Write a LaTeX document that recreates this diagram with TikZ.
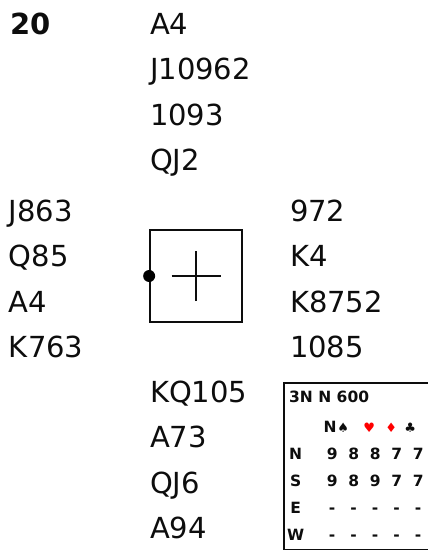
\documentclass[tikz,border=0pt]{standalone}
\usepackage{fontspec}
\setmainfont{DejaVu Sans}
\usepackage{tikz}
\usetikzlibrary{shapes, arrows, positioning}
\newcommand{\handfont}{\fontsize{29}{29}\selectfont}
\newcommand{\scorefont}{\bfseries\fontsize{15.5}{15.5}\selectfont}
\tikzstyle{hand} = [font=\handfont, text=black!95, inner sep=0pt, text width=120pt, align=left, text height=21pt, text depth=6pt]
\tikzstyle{score} = [font=\scorefont, text=black!95, inner sep=0pt, text height=11.3pt, text depth=0pt]
\tikzstyle{suit} = [score, font=\fontsize{13}{13}\selectfont]
\tikzstyle{redsuit} = [suit, text=red]
\tikzstyle{frame} = [line width=1.7pt, draw=black!95]

\begin{document}
\begin{tikzpicture}[x=1pt, y=-1pt, node distance=45.5pt]
\useasboundingbox (0,0) rectangle (428,552);

\node (board) [hand, font=\handfont\bfseries] at (70,26.5) {20};

\node (northS) [hand] at (210,26.5) {A4};
\node (northH) [hand, below of=northS] {J10962};
\node (northD) [hand, below of=northH] {1093};
\node (northC) [hand, below of=northD] {QJ2};

\node (westS) [hand] at (69,213.5) {J863};
\node (westH) [hand, below of=westS] {Q85};
\node (westD) [hand, below of=westH] {A4};
\node (westC) [hand, below of=westD] {K763};

\node (eastS) [hand] at (350,213.5) {972};
\node (eastH) [hand, below of=eastS] {K4};
\node (eastD) [hand, below of=eastH] {K8752};
\node (eastC) [hand, below of=eastD] {1085};

\node (southS) [hand] at (210,394.5) {KQ105};
\node (southH) [hand, below of=southS] {A73};
\node (southD) [hand, below of=southH] {QJ6};
\node (southC) [hand, below of=southD] {A94};

\node (deal) [frame, minimum size=92pt, inner sep=0pt] at (196,276) {};
\draw [line width=1.4pt, draw=black!95] ([xshift=-24.5pt]deal.center) -- ([xshift=24.5pt]deal.center);
\draw [line width=1.4pt, draw=black!95] ([yshift=-25pt]deal.center) -- ([yshift=25pt]deal.center);
\node (dealer) [circle, fill=black, minimum size=12pt, inner sep=0pt] at (deal.west) {};

\draw [frame] (284,383) rectangle (440,549.5);
\node (contract) [score, anchor=base west] at (289,402) {3N N 600};

\begin{scope}[node distance=27pt]
\node (rowN) [score, anchor=base west] at (289,459) {N};
\node (rowS) [score, below of=rowN] {S};
\node (rowE) [score, below of=rowS] {E};
\node (rowW) [score, below of=rowE] {W};
\end{scope}

\begin{scope}[node distance=21.5pt]
\node (tN1) [score, right of=rowN, xshift=15pt] {9};
\node (tN2) [score, right of=tN1] {8};
\node (tN3) [score, right of=tN2] {8};
\node (tN4) [score, right of=tN3] {7};
\node (tN5) [score, right of=tN4] {7};

\node (tS1) [score, right of=rowS, xshift=15pt] {9};
\node (tS2) [score, right of=tS1] {8};
\node (tS3) [score, right of=tS2] {9};
\node (tS4) [score, right of=tS3] {7};
\node (tS5) [score, right of=tS4] {7};

\node (tE1) [score, right of=rowE, xshift=15pt] {-};
\node (tE2) [score, right of=tE1] {-};
\node (tE3) [score, right of=tE2] {-};
\node (tE4) [score, right of=tE3] {-};
\node (tE5) [score, right of=tE4] {-};

\node (tW1) [score, right of=rowW, xshift=15pt] {-};
\node (tW2) [score, right of=tW1] {-};
\node (tW3) [score, right of=tW2] {-};
\node (tW4) [score, right of=tW3] {-};
\node (tW5) [score, right of=tW4] {-};
\end{scope}

\node (hNT) [score, above of=tN1, node distance=27pt, xshift=-2pt] {N};
\node (hS) [suit, right of=hNT, node distance=13pt] {♠};
\node (hH) [redsuit, right of=hS, node distance=26pt] {♥};
\node (hD) [redsuit, right of=hH, node distance=22pt] {♦};
\node (hC) [suit, right of=hD, node distance=19pt] {♣};

\end{tikzpicture}
\end{document}
